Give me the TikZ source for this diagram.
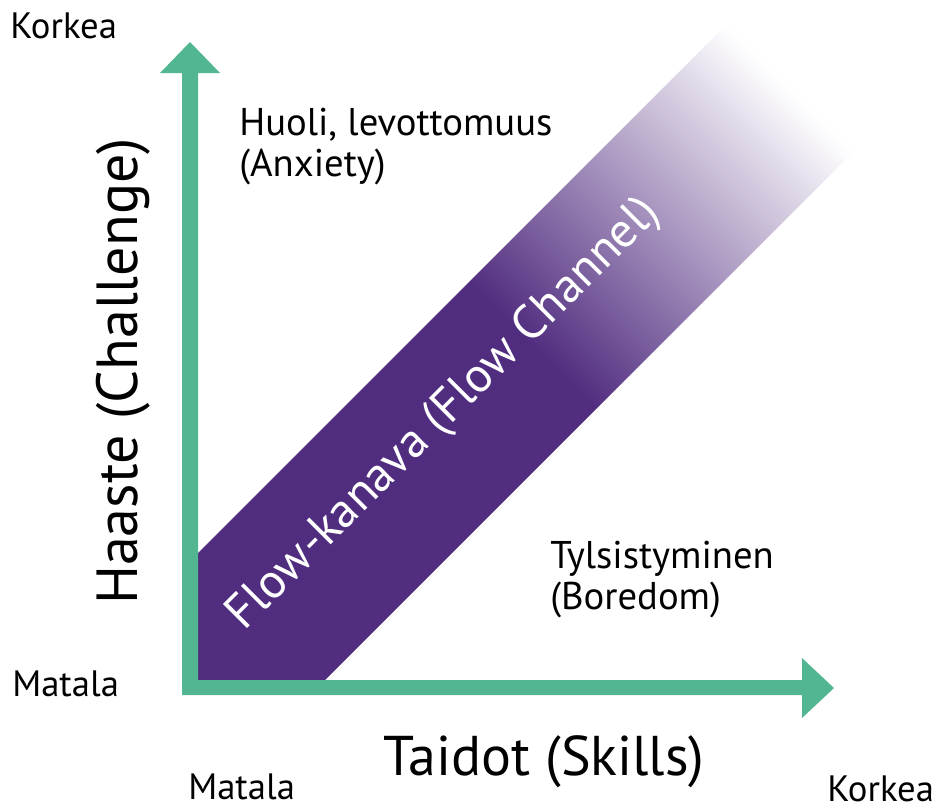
\documentclass[tikz,border=0pt]{standalone}
\usepackage{fontspec}
\setmainfont{PT Sans}
\definecolor{axgreen}{RGB}{82,183,145}
\definecolor{flowpurple}{RGB}{81,45,128}
\begin{document}
\begin{tikzpicture}[x=0.75pt,y=-0.75pt,
  lab/.style={inner sep=0pt, font=\fontsize{27.5}{32}\selectfont},
  midlab/.style={inner sep=0pt, font=\fontsize{29}{34}\selectfont},
  biglab/.style={inner sep=0pt, font=\fontsize{42}{50}\selectfont},
  biglabv/.style={inner sep=0pt, font=\fontsize{43.5}{50}\selectfont},
  flowlab/.style={inner sep=0pt, text=white, font=\fontsize{36.5}{42}\selectfont}]
\useasboundingbox (0,0) rectangle (938,808);
% flow channel band with fade
\begin{scope}
  \clip (190,561) -- (738,13) -- (865,140) -- (318,687) -- (190,687) -- cycle;
  \fill[flowpurple] ({(-700+700)/2},{(700+700)/2}) -- ({(-700+1100)/2},{(1100+700)/2})
      -- ({(189.6+1100)/2},{(1100-189.6)/2}) -- ({(189.6+700)/2},{(700-189.6)/2}) -- cycle;
  \foreach \a in {189,193,...,729} {
    \pgfmathsetmacro\p{max(0,(698-\a)/5.15)}
    \fill[flowpurple!\p!white] ({(\a+700)/2},{(700-\a)/2}) -- ({(\a+1100)/2},{(1100-\a)/2})
      -- ({(\a+4.6+1100)/2},{(1100-\a-4.6)/2}) -- ({(\a+4.6+700)/2},{(700-\a-4.6)/2}) -- cycle;
  }
\end{scope}
% axes
\fill[axgreen] (182,695) -- (182,73) -- (160,73) -- (190,42) -- (220,73) -- (198,73)
  -- (198,680) -- (802,680) -- (802,658) -- (834,688) -- (802,718) -- (802,695) -- cycle;
% labels
\node[lab, anchor=base west] (korkeaY) at (10,38) {Korkea};
\node[lab, anchor=base west] (matalaY) at (12,696) {Matala};
\node[lab, anchor=base west] (matalaX) at (188,799) {Matala};
\node[lab, anchor=base west] (korkeaX) at (827,801) {Korkea};
\node[midlab, anchor=base west] (anx1) at (239,135) {Huoli, levottomuus};
\node[midlab, anchor=base west] (anx2) at (239,176) {(Anxiety)};
\node[midlab, anchor=base west] (bore1) at (550,568) {Tylsistyminen};
\node[midlab, anchor=base west] (bore2) at (550,609) {(Boredom)};
\node[biglab, anchor=base west] (taidot) at (383,775) {Taidot (Skills)};
\node[biglabv, rotate=90, anchor=base west] (haaste) at (137,605) {Haaste (Challenge)};
\node[flowlab, rotate=45, anchor=base] (flow) at (453,423) {Flow-kanava (Flow Channel)};
\end{tikzpicture}
\end{document}
